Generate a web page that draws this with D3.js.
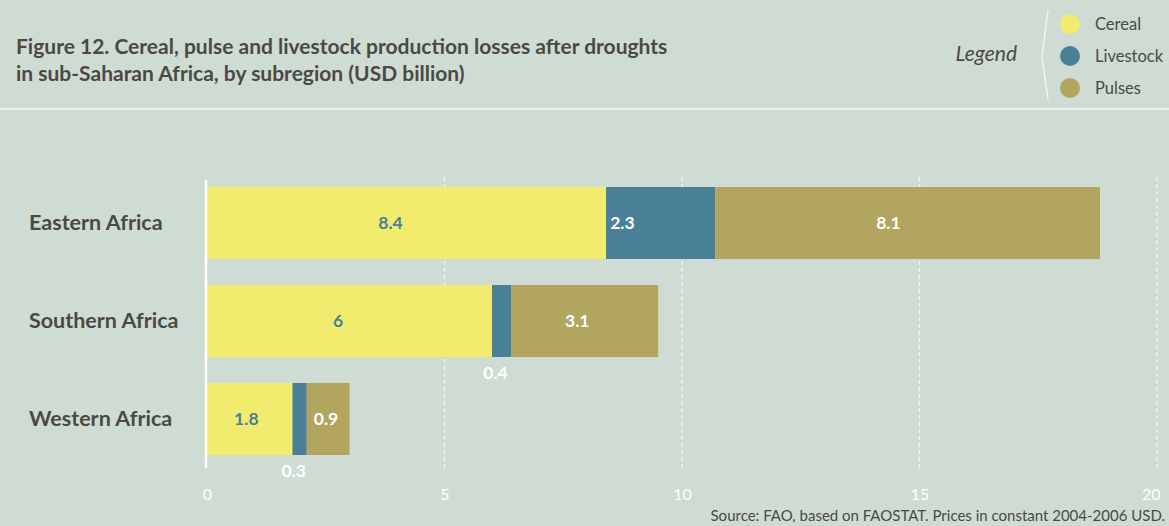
<!DOCTYPE html>
<html>
<head>
<meta charset="utf-8">
<script src="https://cdnjs.cloudflare.com/ajax/libs/d3/7.8.5/d3.min.js"></script>
<style>
  html, body { margin: 0; padding: 0; background: #cfdcd4; }
  svg { display: block; font-family: Lato, "Open Sans", sans-serif; }
</style>
</head>
<body>
<svg id="chart" width="1169" height="526"></svg>
<script>
var regions = ["Eastern Africa", "Southern Africa", "Western Africa"];
var series = ["Cereal", "Livestock", "Pulses"];
var cereal = [8.4, 6, 1.8];
var livestock = [2.3, 0.4, 0.3];
var pulses = [8.1, 3.1, 0.9];
var ticks = [0, 5, 10, 15, 20];

var colors = {"Cereal": "#f2ec6e", "Livestock": "#4a7f98", "Pulses": "#b2a55f"};
var labelColors = {"Cereal": "#4a7f98", "Livestock": "#ffffff", "Pulses": "#ffffff"};
var labelAt = {"Cereal": 0.46, "Livestock": 0.15, "Pulses": 0.45};
var dark = "#4a4a42";

var svg = d3.select("#chart"),
    width = +svg.attr("width"),
    height = +svg.attr("height");

var rows = regions.map(function (r, i) {
    return {region: r, Cereal: cereal[i], Livestock: livestock[i], Pulses: pulses[i]};
});
var stacked = d3.stack().keys(series)(rows);

var x = d3.scaleLinear().domain([0, 20]).range([207, 1157]);
var y = d3.scaleBand().domain(regions).range([174, 468]).paddingInner(0.265).paddingOuter(0.1327);

// header
svg.append("line")
    .attr("x1", 0).attr("x2", width).attr("y1", 109).attr("y2", 109)
    .attr("stroke", "#eef3ef").attr("stroke-width", 2);

var title = svg.append("text")
    .attr("x", 16).attr("y", 54)
    .attr("fill", dark).attr("font-weight", "bold").attr("font-size", 21);
title.append("tspan").attr("x", 16).text("Figure 12. Cereal, pulse and livestock production losses after droughts");
title.append("tspan").attr("x", 16).attr("dy", 26.5).text("in sub-Saharan Africa, by subregion (USD billion)");

// legend
svg.append("text")
    .attr("x", 1017).attr("y", 61).attr("text-anchor", "end")
    .attr("font-style", "italic").attr("font-size", 21).attr("fill", dark)
    .text("Legend");
svg.append("path")
    .attr("d", "M1048,10L1042,57L1048,100")
    .attr("fill", "none").attr("stroke", "#eef3ef").attr("stroke-width", 1.5);
var leg = svg.append("g").selectAll("g")
    .data(series)
    .enter().append("g")
    .attr("transform", function (d, i) { return "translate(1070," + (24 + i * 32) + ")"; });
leg.append("circle").attr("r", 10).attr("fill", function (d) { return colors[d]; });
leg.append("text")
    .attr("x", 25).attr("y", 6)
    .attr("font-size", 16.5).attr("fill", dark)
    .text(function (d) { return d; });

// grid
svg.append("g").selectAll("line")
    .data(ticks.slice(1))
    .enter().append("line")
    .attr("x1", function (d) { return x(d); })
    .attr("x2", function (d) { return x(d); })
    .attr("y1", 177).attr("y2", 468)
    .attr("stroke", "#f2f6f3").attr("stroke-width", 1.3)
    .attr("stroke-dasharray", "4,3");

// bars
var layer = svg.append("g").selectAll("g")
    .data(stacked)
    .enter().append("g")
    .attr("fill", function (d) { return colors[d.key]; });

layer.selectAll("rect")
    .data(function (d) { return d; })
    .enter().append("rect")
    .attr("x", function (d) { return x(d[0]); })
    .attr("y", function (d) { return y(d.data.region); })
    .attr("width", function (d) { return x(d[1]) - x(d[0]); })
    .attr("height", y.bandwidth());

// value labels
layer.each(function (s) {
    d3.select(this).selectAll("text")
        .data(s)
        .enter().append("text")
        .attr("text-anchor", "middle")
        .attr("font-weight", "bold")
        .attr("font-size", 17.5)
        .attr("fill", labelColors[s.key])
        .attr("x", function (d) {
            var w = x(d[1]) - x(d[0]);
            if (w < 25) return (x(d[0]) + x(d[1])) / 2 - 6;
            return x(d[0]) + w * labelAt[s.key];
        })
        .attr("y", function (d) {
            var w = x(d[1]) - x(d[0]);
            if (w < 25) return y(d.data.region) + y.bandwidth() + 22;
            return y(d.data.region) + y.bandwidth() / 2 + 6;
        })
        .text(function (d) { return d.data[s.key]; });
});

// axis line
svg.append("line")
    .attr("x1", 206).attr("x2", 206).attr("y1", 180).attr("y2", 468)
    .attr("stroke", "#ffffff").attr("stroke-width", 2.5);

// category labels
svg.append("g").selectAll("text")
    .data(regions)
    .enter().append("text")
    .attr("x", 29)
    .attr("y", function (d) { return y(d) + y.bandwidth() / 2 + 7; })
    .attr("font-weight", "bold").attr("font-size", 21.5).attr("fill", dark)
    .text(function (d) { return d; });

// tick labels
var xAxis = svg.append("g")
    .attr("transform", "translate(0,500)")
    .call(d3.axisBottom(x).tickValues(ticks).tickSize(0).tickPadding(0));
xAxis.select(".domain").remove();
xAxis.selectAll("text")
    .attr("fill", "#ffffff").attr("font-size", 16).attr("dy", 0)
    .attr("font-family", "Lato, 'Open Sans', sans-serif");
xAxis.selectAll(".tick").filter(function (d) { return d == 20; })
    .select("text").attr("text-anchor", "end").attr("dx", 3);

// source
svg.append("text")
    .attr("x", 1165).attr("y", 521).attr("text-anchor", "end")
    .attr("font-size", 15).attr("fill", dark)
    .text("Source: FAO, based on FAOSTAT. Prices in constant 2004-2006 USD.");
</script>
</body>
</html>
